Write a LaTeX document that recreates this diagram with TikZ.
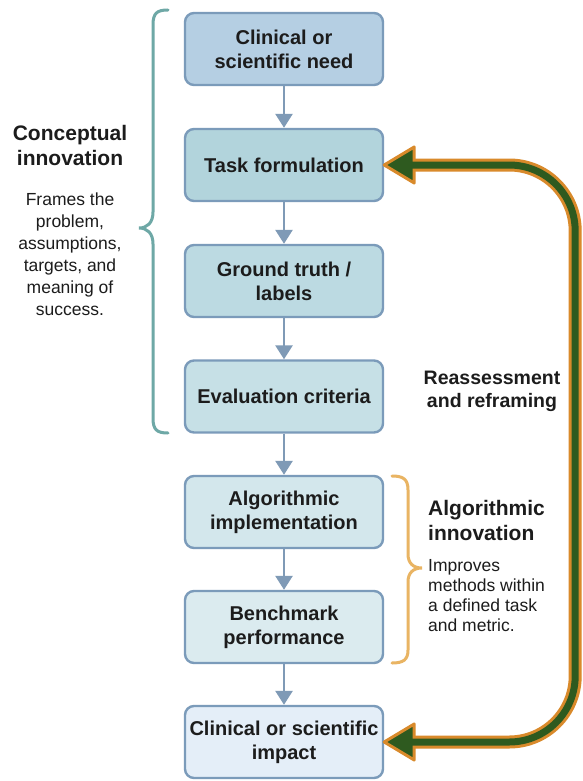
\documentclass[tikz,border=0pt]{standalone}
\usepackage{fontspec}
\setmainfont{Liberation Sans}
\usetikzlibrary{arrows.meta,calc}
\definecolor{cA}{HTML}{B5CFE3}
\definecolor{cB}{HTML}{B2D4DC}
\definecolor{cC}{HTML}{BCDAE2}
\definecolor{cD}{HTML}{C6E0E6}
\definecolor{cE}{HTML}{D3E7EC}
\definecolor{cF}{HTML}{DBEBEF}
\definecolor{cG}{HTML}{E4EEF8}
\definecolor{boxline}{HTML}{7B9BBA}
\definecolor{flowc}{HTML}{7F9AB6}
\definecolor{textc}{HTML}{1C1C1C}
\definecolor{tealbr}{HTML}{6EA8A6}
\definecolor{orbr}{HTML}{E9B463}
\definecolor{orout}{HTML}{D98A2B}
\definecolor{grin}{HTML}{2E5A1F}
\begin{document}
\begin{tikzpicture}[x=1pt,y=-1pt,
  box/.style={draw=boxline, line width=2.4pt, rounded corners=9pt, minimum width=198pt, minimum height=72pt, align=center, inner sep=0pt, font=\fontsize{20}{24}\selectfont\bfseries, text=textc},
  flow/.style={draw=flowc, line width=2.7pt, -{Triangle[width=17pt,length=14pt]}},
  headtxt/.style={font=\fontsize{21}{25}\selectfont\bfseries, text=textc, inner sep=0pt},
  bodytxt/.style={font=\fontsize{17.5}{22}\selectfont, text=textc, inner sep=0pt},
  bracestyle/.style={line width=3pt, line cap=round},
  bigout/.style={draw=orout, line width=13pt, rounded corners=66pt},
  bigin/.style={draw=grin, line width=7pt, rounded corners=66pt},
  bighead/.style={fill=grin, draw=orout, line width=3pt, line join=round}
]
\useasboundingbox (0,0) rectangle (582,781);
\fill[white] (0,0) rectangle (582,781);

% boxes
\node[box, fill=cA] (t1) at (284,49) {Clinical or\\scientific need};
\node[box, fill=cB] (t2) at (284,165) {Task formulation};
\node[box, fill=cC] (t3) at (284,281) {Ground truth /\\labels};
\node[box, fill=cD] (t4) at (284,396.5) {Evaluation criteria};
\node[box, fill=cE] (t5) at (284,512) {Algorithmic\\implementation};
\node[box, fill=cF] (t6) at (284,627) {Benchmark\\performance};
\node[box, fill=cG] (t7) at (284,742) {Clinical or scientific\\impact};

% flow arrows
\draw[flow] (t1) -- (t2);
\draw[flow] (t2) -- (t3);
\draw[flow] (t3) -- (t4);
\draw[flow] (t4) -- (t5);
\draw[flow] (t5) -- (t6);
\draw[flow] (t6) -- (t7);

% left brace
\draw[tealbr, bracestyle] (168,10) .. controls (157,10) and (153,13) .. (153,25) -- (153,212)
  .. controls (153,223) and (147,228) .. (139,228)
  .. controls (147,228) and (153,233) .. (153,244) -- (153,418)
  .. controls (153,430) and (157,433) .. (168,433);

% right orange brace
\draw[orbr, bracestyle] (392,476) .. controls (403,476) and (408,479) .. (408,490) -- (408,554)
  .. controls (408,563) and (413,568) .. (422,568)
  .. controls (413,568) and (408,573) .. (408,582) -- (408,650)
  .. controls (408,660) and (403,663) .. (392,663);

% texts
\node[headtxt, align=center] (conc) at (70,145) {Conceptual\\innovation};
\node[bodytxt, align=center] (concd) at (70,254) {Frames the\\problem,\\assumptions,\\targets, and\\meaning of\\success.};
\node[font=\fontsize{19.5}{23}\selectfont\bfseries, text=textc, inner sep=0pt, align=center] (reas) at (492,391) {Reassessment\\and reframing};
\node[headtxt, align=left, anchor=west] (algo) at (428,520) {Algorithmic\\innovation};
\node[bodytxt, align=left, anchor=west, font=\fontsize{17.5}{20}\selectfont] (algod) at (428,596) {Improves\\methods within\\a defined task\\and metric.};

% big feedback arrow
\coordinate (r1) at ($(t2.east)+(191,0)$);
\coordinate (r2) at ($(t7.east)+(191,0)$);
\draw[bigout] ($(t2.east)+(30,0)$) -- (r1) -- (r2) -- ($(t7.east)+(30,0)$);
\draw[bighead] (t2.east) -- ++(30,-18) -- ++(0,36) -- cycle;
\draw[bighead] (t7.east) -- ++(30,-18) -- ++(0,36) -- cycle;
\draw[bigin] ($(t2.east)+(25,0)$) -- (r1) -- (r2) -- ($(t7.east)+(25,0)$);
\end{tikzpicture}
\end{document}
